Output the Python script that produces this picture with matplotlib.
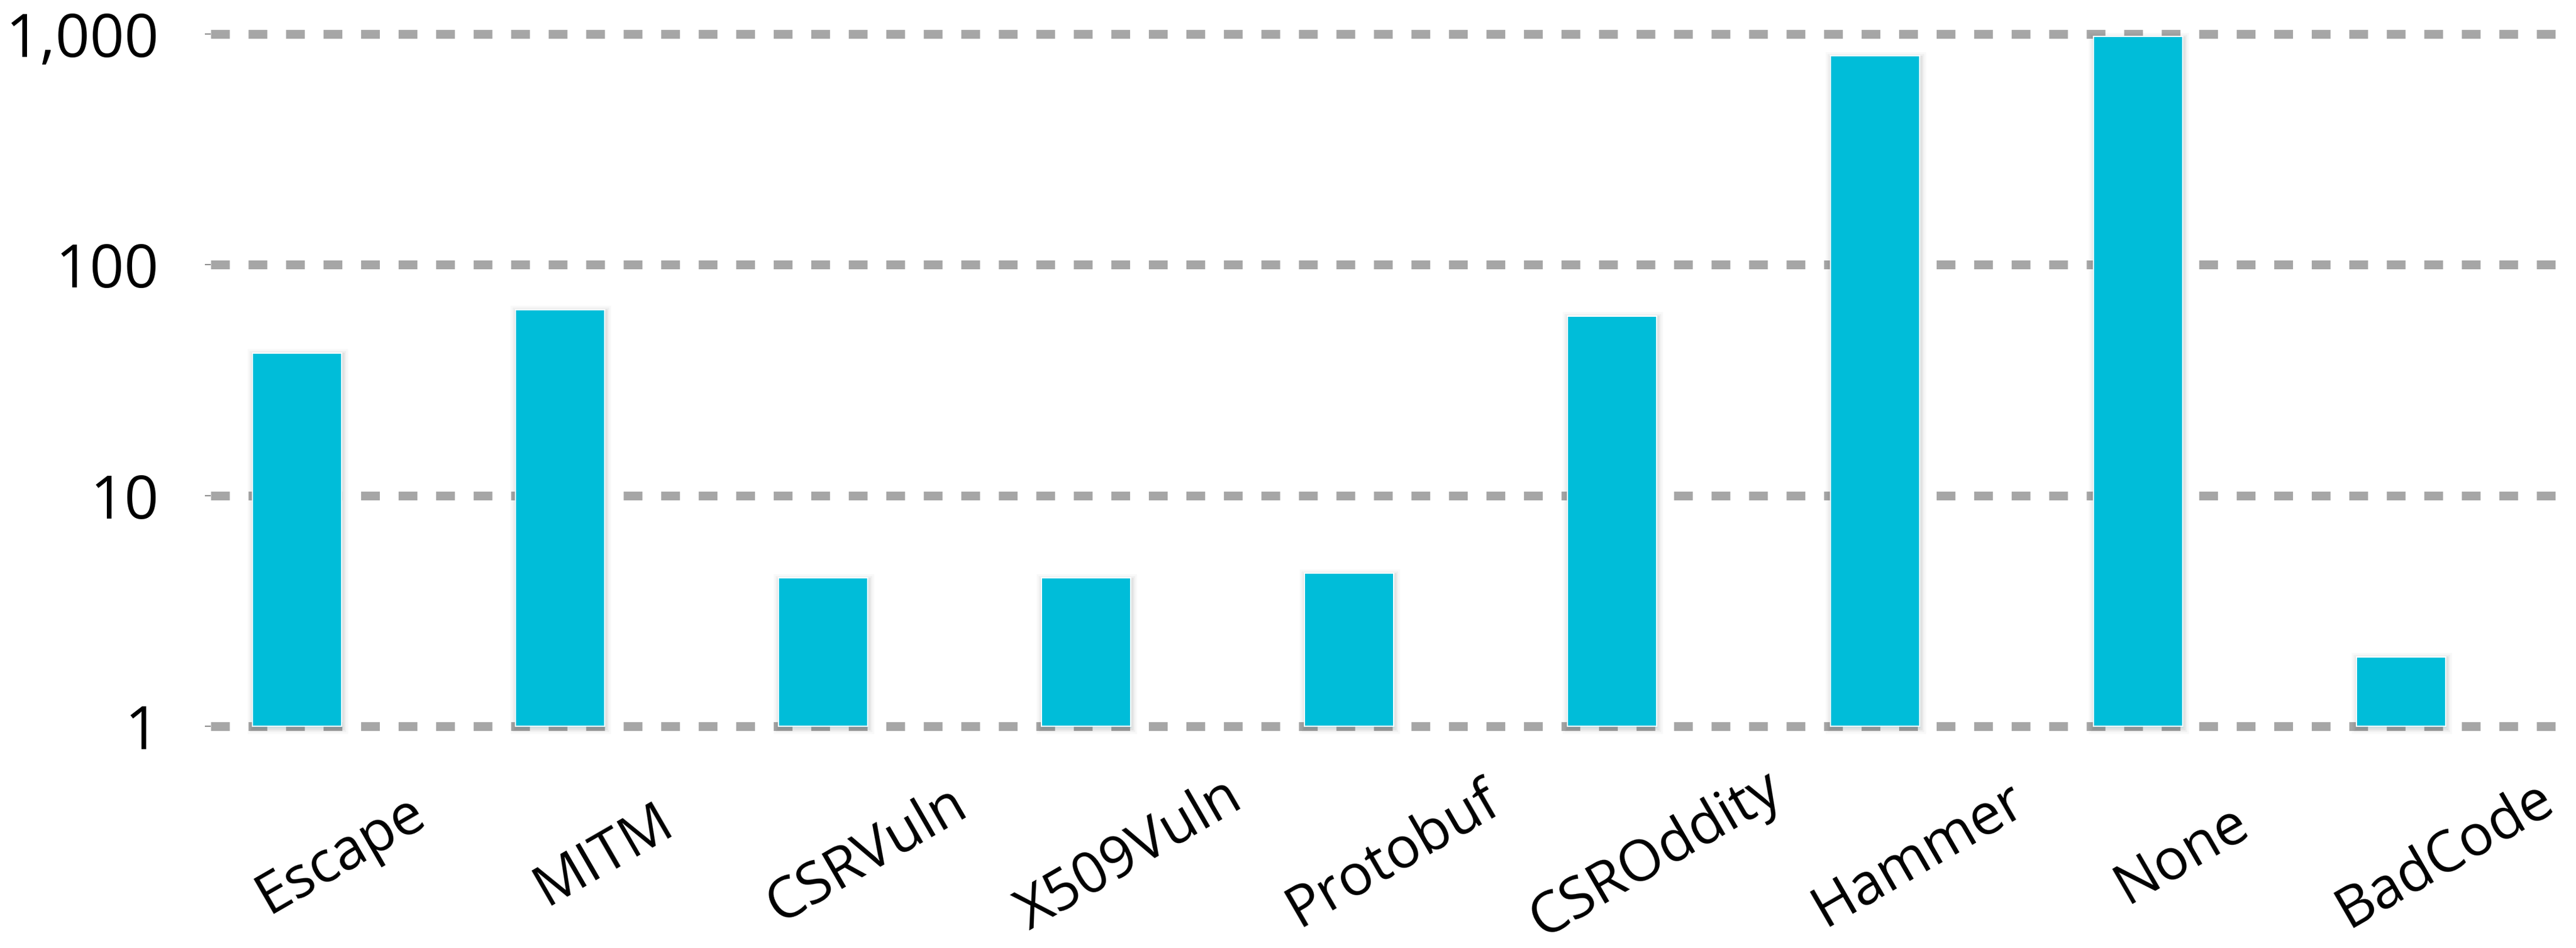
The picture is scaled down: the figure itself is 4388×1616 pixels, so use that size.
import matplotlib.pyplot as plt
import matplotlib.patheffects as pe
from matplotlib.transforms import blended_transform_factory
import numpy as np

categories = ["Escape", "MITM", "CSRVuln", "X509Vuln", "Protobuf",
              "CSROddity", "Hammer", "None", "BadCode"]
values = [41.5, 64, 4.4, 4.4, 4.6, 60, 806, 975, 2]

ytick_vals = [1, 10, 100, 1000]
ytick_labels = ["1", "10", "100", "1,000"]

BAR = "#00BDD9"
GRID = "#A6A6A6"

plt.rcParams["font.family"] = ["Open Sans", "DejaVu Sans"]

fig = plt.figure(figsize=(43.88, 16.16), dpi=100)
ax = fig.add_axes([0.0818, 0.2017, 0.9118, 0.7859])

x = np.arange(len(categories))
vals = np.array(values, dtype=float)

# soft glow under each bar
shadow = [
    pe.Stroke(linewidth=14, foreground="black", alpha=0.025, offset=(1, -2)),
    pe.Stroke(linewidth=9, foreground="black", alpha=0.035, offset=(1, -2)),
    pe.Stroke(linewidth=5, foreground="black", alpha=0.05, offset=(1, -2)),
    pe.Normal(),
]
bars = ax.bar(x, vals - 1, bottom=1, width=0.34, color=BAR,
              edgecolor="white", linewidth=1.5, zorder=3)
for b in bars:
    b.set_path_effects(shadow)

ax.set_yscale("log")
ax.set_ylim(0.7374, 1249.5)
ax.set_xlim(-0.328, 8.603)

ax.set_yticks(ytick_vals)
ax.set_yticklabels(ytick_labels)
ax.yaxis.set_minor_locator(plt.NullLocator())
ax.tick_params(axis="y", length=7.2, width=1.5, color="#8C8C8C",
               pad=56, labelsize=74)
ax.set_xticks([])

ax.set_axisbelow(True)
ax.yaxis.grid(True, color=GRID, linewidth=10.8,
              linestyle=(0, (2.13, 2.13)))
for s in ax.spines.values():
    s.set_visible(False)

# rotated category names under the bars
trans = blended_transform_factory(ax.transData, fig.transFigure)
for i, name in enumerate(categories):
    ax.text(i + 0.167, 0.098, name, transform=trans, rotation=30,
            rotation_mode="anchor", ha="center", va="center",
            fontsize=70, color="black", clip_on=False)

fig.savefig("out.png", dpi=100)
